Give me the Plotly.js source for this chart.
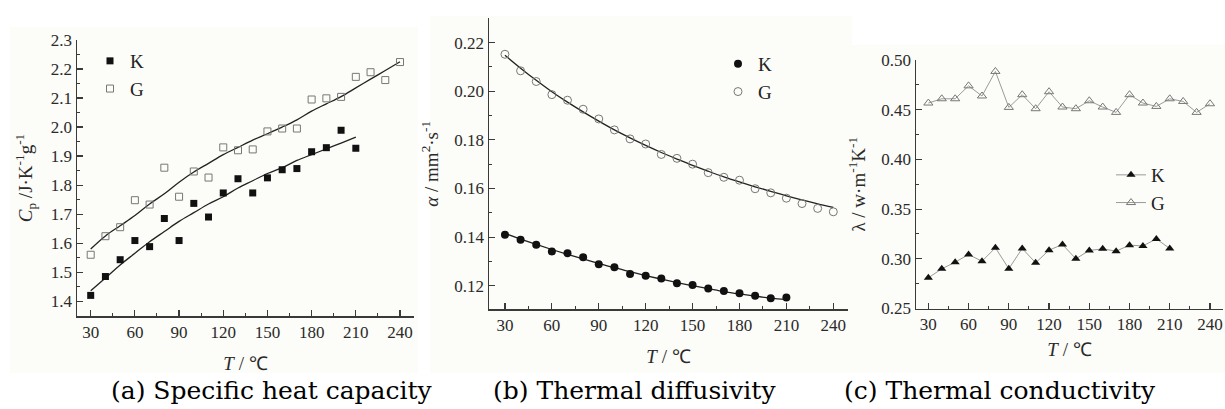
<!DOCTYPE html>
<html>
<head>
<meta charset="utf-8">
<script src="https://cdn.plot.ly/plotly-3.0.1.min.js"></script>
<style>html,body{margin:0;padding:0;background:#fff;}#chart{width:1225px;height:409px;}</style>
</head>
<body>
<div id="chart"></div>
<script>
// ---- data ----
const tempK = [30,40,50,60,70,80,90,100,110,120,130,140,150,160,170,180,190,200,210];
const tempG = [30,40,50,60,70,80,90,100,110,120,130,140,150,160,170,180,190,200,210,220,230,240];

// (a) specific heat capacity, J/(K g)
const cpK = [1.42,1.485,1.543,1.609,1.588,1.685,1.609,1.737,1.69,1.773,1.822,1.773,1.825,1.853,1.857,1.915,1.929,1.989,1.927];
const cpG = [1.56,1.624,1.655,1.748,1.733,1.86,1.76,1.847,1.826,1.93,1.92,1.923,1.985,1.995,1.995,2.095,2.099,2.104,2.173,2.189,2.162,2.224];
const cpFitK = [1.436,1.48,1.525,1.565,1.605,1.64,1.675,1.705,1.735,1.76,1.79,1.815,1.84,1.86,1.885,1.905,1.925,1.945,1.965];
const cpFitG = [1.58,1.625,1.66,1.695,1.735,1.77,1.81,1.845,1.875,1.905,1.93,1.955,1.977,2.0,2.025,2.055,2.08,2.105,2.135,2.165,2.195,2.225];

// (b) thermal diffusivity, mm2/s
const alphaK = [0.141,0.1389,0.1369,0.1341,0.1334,0.1317,0.1288,0.1276,0.1248,0.1241,0.123,0.121,0.1203,0.1189,0.1178,0.1169,0.1159,0.1148,0.1152];
const alphaG = [0.2152,0.2084,0.204,0.1986,0.1963,0.1926,0.1886,0.1841,0.1804,0.1783,0.174,0.1724,0.17,0.1665,0.1646,0.1634,0.1599,0.1582,0.156,0.1538,0.1518,0.1504];
const alphaFitK = [0.1415,0.1392,0.137,0.1349,0.1329,0.131,0.1292,0.1274,0.1258,0.1242,0.1227,0.1213,0.12,0.1188,0.1176,0.1166,0.1157,0.1149,0.1143];
const alphaFitG = [0.2148,0.2095,0.2045,0.1998,0.1955,0.1915,0.1877,0.1841,0.1808,0.1777,0.1748,0.1721,0.1695,0.1671,0.1648,0.1627,0.1607,0.1588,0.157,0.1553,0.1537,0.1522];

// (c) thermal conductivity, W/(m K)
const lambdaK = [0.2809,0.2899,0.2966,0.3043,0.2976,0.3111,0.29,0.3104,0.296,0.3087,0.3144,0.30,0.3084,0.31,0.3077,0.3137,0.313,0.32,0.3104];
const lambdaG = [0.4567,0.461,0.461,0.474,0.4638,0.4885,0.4523,0.4651,0.451,0.4681,0.4527,0.451,0.459,0.4527,0.4473,0.4651,0.4567,0.4533,0.461,0.4583,0.4473,0.456];

const xTicks = [30,60,90,120,150,180,210,240];
const captions = ['(a) Specific heat capacity','(b) Thermal diffusivity','(c) Thermal conductivity'];

// ---- layout helpers ----
const W = 1225, H = 409;
const px = v => v / W;
const py = v => 1 - v / H;
const SERIF = 'Liberation Serif';
const AX = '#3a3a3a';

function xAxis(anchor, l, r, range, standoff) {
  return {
    anchor: anchor, domain: [px(l), px(r)], range: range,
    tickmode: 'array', tickvals: xTicks, ticktext: xTicks.map(String),
    ticks: 'inside', ticklen: 6, tickwidth: 1.2, tickcolor: AX,
    minor: {dtick: 15, tick0: 0, ticks: 'inside', ticklen: 3, tickwidth: 1, tickcolor: AX},
    showline: true, linecolor: AX, linewidth: 1.5, showgrid: false, zeroline: false,
    tickfont: {family: SERIF, size: 17, color: '#2a2a2a'},
    title: {text: '<i>T</i> / ℃', font: {family: SERIF, size: 19, color: '#2a2a2a'}, standoff: standoff}
  };
}
function yAxis(anchor, top, bot, range, dtick, tick0, fmt, minor, title, standoff) {
  return {
    anchor: anchor, domain: [py(bot), py(top)], range: range,
    dtick: dtick, tick0: tick0, tickformat: fmt,
    ticks: 'inside', ticklen: 6, tickwidth: 1.2, tickcolor: AX,
    minor: {dtick: minor, ticks: 'inside', ticklen: 3, tickwidth: 1, tickcolor: AX},
    showline: true, linecolor: AX, linewidth: 1.5, showgrid: false, zeroline: false,
    tickfont: {family: SERIF, size: 17, color: '#2a2a2a'},
    title: {text: title, font: {family: SERIF, size: 19, color: '#2a2a2a'}, standoff: standoff}
  };
}

const fitLine = {color: '#222', width: 1.3, shape: 'spline', smoothing: 1};

const traces = [
  // (a)
  {x: tempK, y: cpFitK, xaxis: 'x', yaxis: 'y', mode: 'lines', line: fitLine, showlegend: false, hoverinfo: 'skip'},
  {x: tempG, y: cpFitG, xaxis: 'x', yaxis: 'y', mode: 'lines', line: fitLine, showlegend: false, hoverinfo: 'skip'},
  {x: tempK, y: cpK, xaxis: 'x', yaxis: 'y', mode: 'markers', name: 'K', legend: 'legend',
   marker: {symbol: 'square', size: 7, color: '#111'}},
  {x: tempG, y: cpG, xaxis: 'x', yaxis: 'y', mode: 'markers', name: 'G', legend: 'legend',
   marker: {symbol: 'square-open', size: 7, color: '#777', line: {width: 1}}},
  // (b)
  {x: tempK, y: alphaFitK, xaxis: 'x2', yaxis: 'y2', mode: 'lines', line: fitLine, showlegend: false, hoverinfo: 'skip'},
  {x: tempG, y: alphaFitG, xaxis: 'x2', yaxis: 'y2', mode: 'lines', line: fitLine, showlegend: false, hoverinfo: 'skip'},
  {x: tempK, y: alphaK, xaxis: 'x2', yaxis: 'y2', mode: 'markers', name: 'K', legend: 'legend2',
   marker: {symbol: 'circle', size: 8, color: '#111'}},
  {x: tempG, y: alphaG, xaxis: 'x2', yaxis: 'y2', mode: 'markers', name: 'G', legend: 'legend2',
   marker: {symbol: 'circle-open', size: 8, color: '#777', line: {width: 1}}},
  // (c)
  {x: tempK, y: lambdaK, xaxis: 'x3', yaxis: 'y3', mode: 'lines+markers', name: 'K', legend: 'legend3',
   line: {color: '#9a9a9a', width: 1}, marker: {symbol: 'triangle-up', size: 8, color: '#111'}},
  {x: tempG, y: lambdaG, xaxis: 'x3', yaxis: 'y3', mode: 'lines+markers', name: 'G', legend: 'legend3',
   line: {color: '#9a9a9a', width: 1}, marker: {symbol: 'triangle-up-open', size: 8, color: '#777', line: {width: 1}}}
];

const legendBase = {font: {family: SERIF, size: 19, color: '#222'}, bgcolor: 'rgba(0,0,0,0)',
  xanchor: 'left', yanchor: 'top', tracegroupgap: 0, itemclick: false};

const layout = {
  width: W, height: H,
  margin: {l: 0, r: 0, t: 0, b: 0},
  paper_bgcolor: '#ffffff', plot_bgcolor: 'rgba(0,0,0,0)',
  showlegend: true,
  xaxis: xAxis('y', 77, 414, [20.7, 249.5], 16),
  yaxis: yAxis('x', 40, 316, [1.349, 2.3], 0.1, 1.4, '.1f', 0.05,
    '<i>C</i><sub>p</sub> /J·K<sup>-1</sup>g<sup>-1</sup>', 13),
  xaxis2: xAxis('y2', 489, 848, [19.8, 249.4], 15),
  yaxis2: yAxis('x2', 18.3, 309.3, [0.1103, 0.230], 0.02, 0.12, '.2f', 0.01,
    '<i>α</i> / mm<sup>2</sup>·s<sup>-1</sup>', 10),
  xaxis3: xAxis('y3', 916, 1223, [20.8, 249.7], 9),
  yaxis3: yAxis('x3', 60, 308.5, [0.25, 0.50], 0.05, 0.25, '.2f', 0.025,
    'λ / w·m<sup>-1</sup>K<sup>-1</sup>', 10),
  legend: Object.assign({}, legendBase, {x: px(90), y: py(42)}),
  legend2: Object.assign({}, legendBase, {x: px(718), y: py(45)}),
  legend3: Object.assign({}, legendBase, {x: px(1111), y: py(156)}),
  shapes: [
    {type: 'rect', xref: 'paper', yref: 'paper', x0: px(10), x1: px(418), y0: py(373), y1: py(27), fillcolor: '#fcfcf8', line: {width: 0}, layer: 'below'},
    {type: 'rect', xref: 'paper', yref: 'paper', x0: px(430), x1: px(852), y0: py(373), y1: py(16), fillcolor: '#fcfcf8', line: {width: 0}, layer: 'below'},
    {type: 'rect', xref: 'paper', yref: 'paper', x0: px(852), x1: px(1225), y0: py(373), y1: py(45), fillcolor: '#fcfcf8', line: {width: 0}, layer: 'below'}
  ],
  annotations: [
    {text: captions[0], xref: 'paper', yref: 'paper', x: px(272), y: py(390), xanchor: 'center', yanchor: 'middle', showarrow: false, font: {family: 'DejaVu Serif', size: 25, color: '#000'}},
    {text: captions[1], xref: 'paper', yref: 'paper', x: px(634), y: py(390), xanchor: 'center', yanchor: 'middle', showarrow: false, font: {family: 'DejaVu Serif', size: 25, color: '#000'}},
    {text: captions[2], xref: 'paper', yref: 'paper', x: px(1000), y: py(390), xanchor: 'center', yanchor: 'middle', showarrow: false, font: {family: 'DejaVu Serif', size: 25, color: '#000'}}
  ]
};

Plotly.newPlot('chart', traces, layout, {displayModeBar: false, staticPlot: true});
</script>
</body>
</html>
